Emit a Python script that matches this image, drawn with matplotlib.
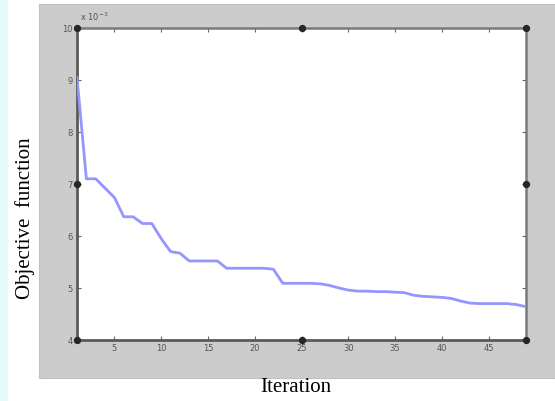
import matplotlib
matplotlib.use("Agg")
import matplotlib.pyplot as plt
from matplotlib.patches import Rectangle

iterations = list(range(1, 50))
objective = [9.05, 7.10, 7.10, 6.92, 6.74, 6.37, 6.37, 6.24, 6.24, 5.95,
             5.70, 5.67, 5.52, 5.52, 5.52, 5.52, 5.38, 5.38, 5.38, 5.38,
             5.38, 5.36, 5.09, 5.09, 5.09, 5.09, 5.08, 5.05, 5.00, 4.96,
             4.94, 4.94, 4.93, 4.93, 4.92, 4.91, 4.86, 4.84, 4.83, 4.82,
             4.80, 4.75, 4.71, 4.70, 4.70, 4.70, 4.70, 4.68, 4.64]
x_ticks = [5, 10, 15, 20, 25, 30, 35, 40, 45]
y_ticks = [4, 5, 6, 7, 8, 9, 10]
dot_x = [1, 1, 1, 25, 25, 49, 49, 49]
dot_y = [4, 7, 10, 4, 10, 4, 7, 10]

fig = plt.figure(figsize=(5.55, 4.01), dpi=100)
fig.patch.set_facecolor("white")
# cyan strip at left
fig.add_artist(Rectangle((0, 0), 8 / 555, 1, transform=fig.transFigure,
                         facecolor="#e2fafc", edgecolor="none", zorder=0))
# gray frame background
fig.add_artist(Rectangle((39 / 555, (401 - 378) / 401), 1 - 39 / 555, (378 - 4) / 401,
                         transform=fig.transFigure, facecolor="#cccccc",
                         edgecolor="#c0c0c0", lw=0.8, zorder=0))

ax = fig.add_axes([77 / 555, (401 - 340) / 401, (526 - 77) / 555, (340 - 28) / 401])
ax.set_facecolor("white")
ax.plot(iterations, objective, color="#9595ff", lw=2.0, solid_joinstyle="round", zorder=3)
ax.scatter(dot_x, dot_y, s=18, color="#262626", zorder=5, clip_on=False)

ax.set_xlim(1, 49)
ax.set_ylim(4, 10)
ax.set_xticks(x_ticks)
ax.set_yticks(y_ticks)
ax.set_xticklabels([str(v) for v in x_ticks])
ax.set_yticklabels([str(v) for v in y_ticks])
ax.tick_params(direction="in", length=3, width=0.8, color="#666666",
               labelsize=6, labelcolor="#555555", top=True, right=True, pad=3)
for side in ["left", "bottom"]:
    ax.spines[side].set_color("#5a5a5a")
    ax.spines[side].set_linewidth(2)
for side in ["top", "right"]:
    ax.spines[side].set_color("#7a7a7a")
    ax.spines[side].set_linewidth(1.8)

fig.text(80 / 555, 1 - 17 / 401, r"x 10$^{-3}$", fontsize=6, color="#555555",
         ha="left", va="center")

fig.text(25 / 555, 1 - 218 / 401, "Objective  function", rotation=90,
         fontsize=15, family="Liberation Serif", ha="center", va="center")
fig.text(296 / 555, 1 - 387 / 401, "Iteration", fontsize=15,
         family="Liberation Serif", ha="center", va="center")

fig.savefig("out.png", dpi=100)
